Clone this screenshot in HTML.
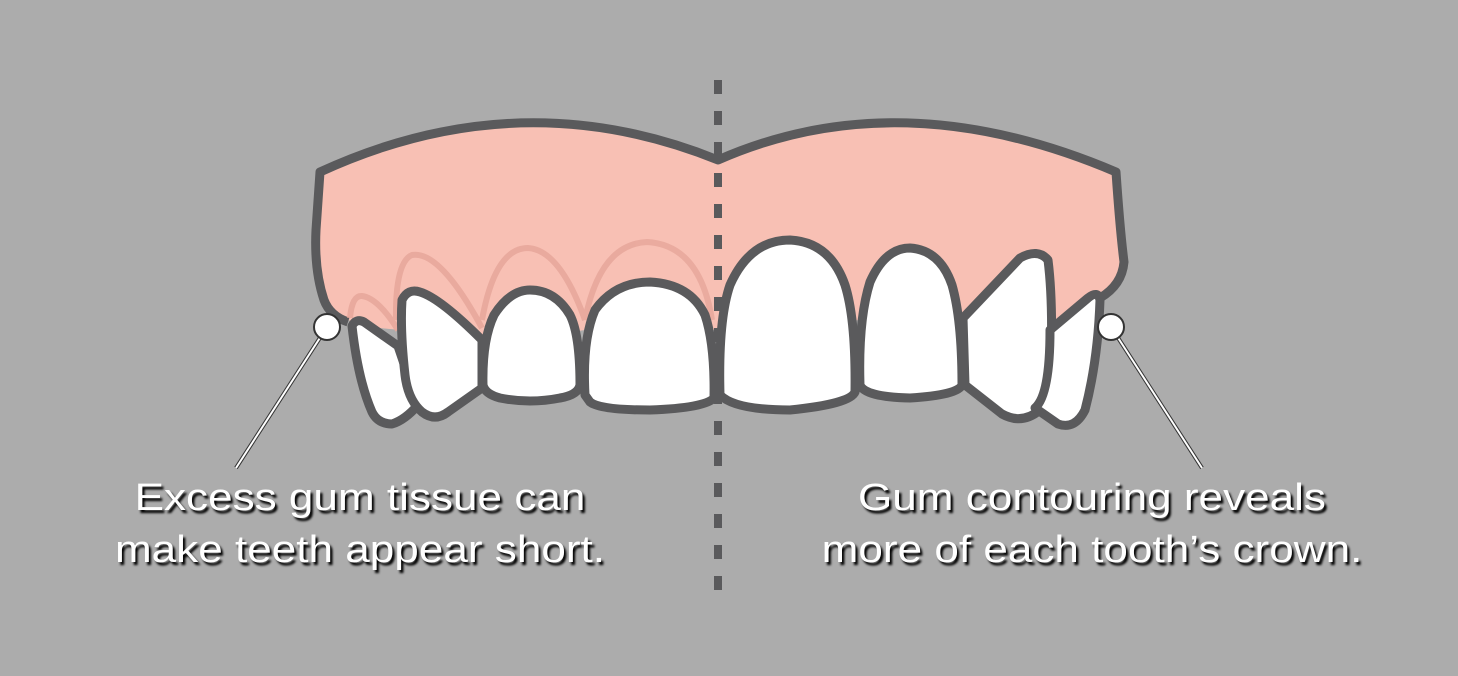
<!DOCTYPE html>
<html><head><meta charset="utf-8"><style>
html,body{margin:0;padding:0;background:#acacac;width:1458px;height:676px;overflow:hidden}
svg{position:absolute;left:0;top:0}
.t{position:absolute;font-family:"Liberation Sans",Arial,sans-serif;font-size:38px;color:#fff;text-shadow:2px 3px 2px #000;text-align:center;line-height:52px;white-space:nowrap;transform:scaleX(1.16);transform-origin:center}
</style></head><body>
<svg width="1458" height="676" viewBox="0 0 1458 676">
<path fill="#f8c0b4" d="M320,172 Q520,80 718,160 Q900,80 1116,172 Q1120,230 1124,262 Q1122,285 1100,298 L1050,335 L965,330 L860,320 L715,330 L585,330 L480,345 L400,330 L360,326 L345,318 Q330,318 324,300 Q314,270 316,230 Z"/>
<path fill="none" stroke="#5a5a5c" stroke-width="9" stroke-linejoin="round" d="M348,322 Q330,316 324,300 Q314,270 316,230 L320,172 Q520,80 718,160 Q900,80 1116,172 Q1120,230 1124,262 Q1122,285 1100,298"/>
<g fill="none" stroke="#e8a89c" stroke-width="6" opacity="0.9">
<path d="M350,318 Q352,295 362,296 Q378,298 398,330"/>
<path d="M396,320 Q395,262 412,255 Q440,250 482,328"/>
<path d="M482,320 Q495,248 528,248 Q560,250 585,320"/>
<path d="M585,320 Q600,244 647,242 Q700,245 712,320"/>
</g>
<g fill="#fff" stroke="#5a5a5c" stroke-width="9" stroke-linejoin="round">
<path d="M352,326 Q356,318 364,322 L398,346 L418,405 Q405,420 392,424 Q378,424 372,412 Q358,380 352,326 Z"/>
<path d="M402,300 Q408,288 420,292 Q440,298 482,340 L482,388 L448,412 Q435,422 422,412 Q408,400 405,375 Q400,330 402,300 Z"/>
<path d="M483,385 Q482,340 494,315 Q510,290 530,290 Q555,290 570,315 Q580,335 580,385 Q578,395 560,398 Q530,404 500,398 Q485,394 483,385 Z"/>
<path d="M585,395 Q582,340 595,310 Q615,282 650,282 Q690,284 705,315 Q715,345 714,398 Q705,408 650,410 Q600,410 590,402 Z"/>
<path d="M720,395 Q718,320 730,285 Q750,240 790,240 Q830,242 845,285 Q856,320 855,392 Q850,404 790,410 Q735,410 720,395 Z"/>
<path d="M860,385 Q858,320 870,282 Q885,248 910,248 Q940,250 952,285 Q962,320 962,385 Q958,395 910,398 Q865,397 860,385 Z"/>
<path d="M963,318 L1020,258 Q1038,248 1048,260 Q1053,300 1051,360 Q1050,400 1040,410 Q1022,425 1002,414 L965,385 Z"/>
<path d="M1050,330 L1088,298 Q1098,290 1100,300 Q1098,360 1085,410 Q1075,430 1058,424 L1035,408 Q1050,395 1050,330 Z"/>
</g>
<line x1="718" y1="80" x2="718" y2="600" stroke="#5a5a5c" stroke-width="8" stroke-dasharray="14 17"/>
<g stroke="#333" stroke-width="4"><line x1="325" y1="330" x2="236" y2="468"/><line x1="1113" y1="330" x2="1202" y2="468"/></g>
<g stroke="#fff" stroke-width="2"><line x1="325" y1="330" x2="236" y2="468"/><line x1="1113" y1="330" x2="1202" y2="468"/></g>
<circle cx="327" cy="327" r="13" fill="#fff" stroke="#333" stroke-width="2"/>
<circle cx="1111" cy="327" r="13" fill="#fff" stroke="#333" stroke-width="2"/>
</svg>
<div class="t" style="left:60px;top:472px;width:600px">Excess gum tissue can<br>make teeth appear short.</div>
<div class="t" style="left:792px;top:472px;width:600px">Gum contouring reveals<br>more of each tooth’s crown.</div>
</body></html>
